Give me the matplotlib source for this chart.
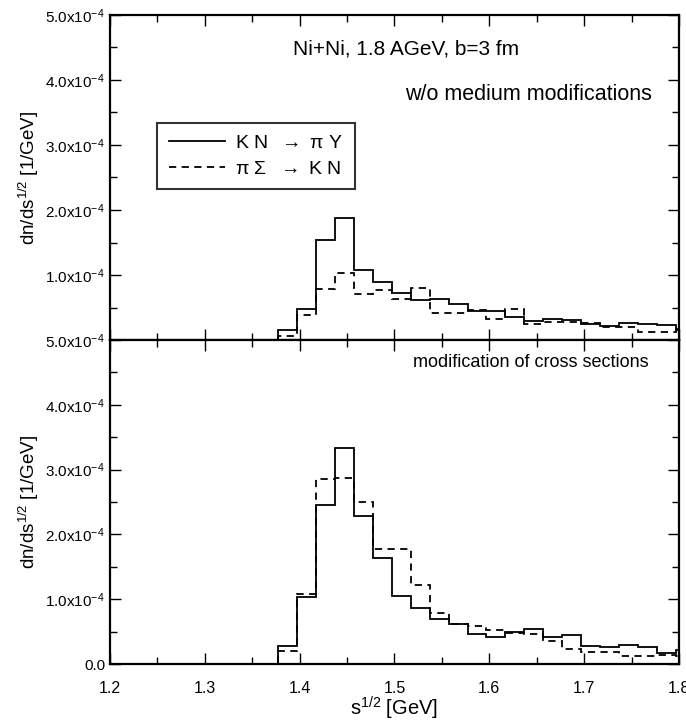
import numpy as np
import matplotlib
matplotlib.use("Agg")
import matplotlib.pyplot as plt
from matplotlib.ticker import MultipleLocator, FixedLocator, FormatStrFormatter

plt.rcParams['font.family'] = ['Liberation Sans', 'DejaVu Sans']
plt.rcParams['mathtext.fontset'] = 'custom'
plt.rcParams['mathtext.rm'] = 'Liberation Sans'
plt.rcParams['mathtext.it'] = 'Liberation Sans:italic'
plt.rcParams['mathtext.default'] = 'regular'

# bin edges (s^1/2 in GeV), bins of 0.02 GeV
bin_start = 1.377
bin_width = 0.02
n_bins = 22

# top panel: w/o medium modifications (units of 1e-4 1/GeV)
top_kn = [0.15, 0.48, 1.54, 1.87, 1.08, 0.90, 0.73, 0.61, 0.63, 0.56, 0.45,
          0.44, 0.36, 0.30, 0.33, 0.31, 0.24, 0.22, 0.26, 0.25, 0.23, 0.17]
top_ps = [0.06, 0.39, 0.78, 1.03, 0.71, 0.77, 0.63, 0.80, 0.42, 0.42, 0.46,
          0.32, 0.48, 0.25, 0.28, 0.28, 0.26, 0.20, 0.20, 0.13, 0.13, 0.15]

# bottom panel: modification of cross sections
bot_kn = [0.28, 1.03, 2.46, 3.34, 2.28, 1.63, 1.05, 0.87, 0.69, 0.62, 0.46,
          0.41, 0.49, 0.54, 0.42, 0.44, 0.28, 0.27, 0.29, 0.26, 0.17, 0.22]
bot_ps = [0.20, 1.08, 2.85, 2.87, 2.50, 1.78, 1.78, 1.22, 0.78, 0.62, 0.59,
          0.52, 0.48, 0.47, 0.36, 0.23, 0.18, 0.18, 0.12, 0.12, 0.14, 0.12]

ytick_vals = [0, 1, 2, 3, 4, 5]
ytick_labels = ["0.0"] + [r"%d.0x10$^{-4}$" % v for v in ytick_vals[1:]]

edges = bin_start + bin_width * np.arange(n_bins + 1)

fig = plt.figure(figsize=(6.86, 7.23), dpi=100)
ax1 = fig.add_axes([0.1603, 0.5297, 0.8295, 0.4496])
ax2 = fig.add_axes([0.1603, 0.0816, 0.8295, 0.4481])

for ax, kn, ps in [(ax1, top_kn, top_ps), (ax2, bot_kn, bot_ps)]:
    ax.stairs(kn, edges, color='black', lw=1.3,
              label=r'K N  $\rightarrow$ $\pi$ Y')
    ax.stairs(ps, edges, color='black', lw=1.3, linestyle=(0, (4, 3)),
              label=r'$\pi$ $\Sigma$  $\rightarrow$ K N')
    ax.set_xlim(1.2, 1.8)
    ax.set_ylim(0, 5)
    ax.xaxis.set_major_locator(MultipleLocator(0.1))
    ax.xaxis.set_minor_locator(MultipleLocator(0.05))
    ax.xaxis.set_major_formatter(FormatStrFormatter('%.1f'))
    ax.yaxis.set_major_locator(FixedLocator(ytick_vals))
    ax.yaxis.set_minor_locator(MultipleLocator(0.5))
    ax.tick_params(which='both', direction='in', top=True, right=True,
                   width=1.0, labelsize=11, colors='black')
    ax.tick_params(axis='x', pad=12, labelsize=11.5)
    ax.tick_params(which='major', length=8)
    ax.tick_params(which='minor', length=5)
    for s in ax.spines.values():
        s.set_linewidth(1.6)
    ax.set_ylabel(r"dn/ds$^{1/2}$ [1/GeV]", fontsize=13.5, labelpad=3)
    ax.set_yticks(ytick_vals)
    ax.set_yticklabels(ytick_labels)

ax1.set_yticklabels([""] + ytick_labels[1:])
ax1.tick_params(labelbottom=False)
ax2.set_xlabel(r"s$^{1/2}$ [GeV]", fontsize=14.5)
ax2.xaxis.set_label_coords(0.5, -0.095)

ax1.text(0.52, 0.895, "Ni+Ni, 1.8 AGeV, b=3 fm", transform=ax1.transAxes,
         fontsize=15, ha='center', va='center')
ax1.text(0.952, 0.755, "w/o medium modifications", transform=ax1.transAxes,
         fontsize=15.5, ha='right', va='center')
ax2.text(0.947, 0.93, "modification of cross sections", transform=ax2.transAxes,
         fontsize=13, ha='right', va='center')

leg = ax1.legend(loc='upper left', bbox_to_anchor=(0.083, 0.668), fontsize=14,
                 frameon=True, fancybox=False, edgecolor='black',
                 handlelength=2.9, handletextpad=0.5, borderpad=0.6,
                 labelspacing=0.4, borderaxespad=0)
leg.get_frame().set_linewidth(1.5)

fig.savefig("out.png", dpi=100)
